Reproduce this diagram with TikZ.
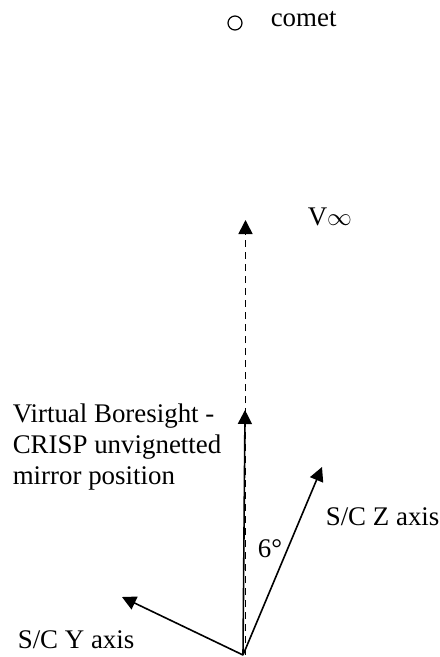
\documentclass[tikz,border=0pt]{standalone}
\usepackage{fontspec}
\setmainfont{Liberation Serif}
\usetikzlibrary{arrows.meta}

\begin{document}
\begin{tikzpicture}
	[x=1bp, y=-1bp, line width=1.6bp,
	 lbl/.style = {inner sep=0pt, font=\fontsize{27}{31}\selectfont},
	 axis/.style = {-{Triangle[length=14bp,width=14bp]}}]
	\useasboundingbox (0,0) rectangle (440,657);
	\node[draw, circle, minimum size=14bp, inner sep=0pt, line width=1.2bp] (comet) at (235,23) {};
	\node[lbl, anchor=base west] (cometlbl) at (270,27) {comet};
	\coordinate (o) at (243,655);
	\coordinate (od) at (245.5,655);
	\coordinate (vinf) at (245.5,220);
	\coordinate (bs) at (245,410);
	\coordinate (z) at (322,467);
	\coordinate (y) at (122,597);
	\node[lbl, anchor=base west] (vinflbl) at (307,225) {V$\infty$};
	\node[lbl, anchor=base west, align=left] (bslbl) at (12,484) {Virtual Boresight -\\CRISP unvignetted\\mirror position};
	\node[lbl, anchor=base west] (zlbl) at (325,525) {S/C Z axis};
	\node[lbl, anchor=base west] (ylbl) at (17,648) {S/C Y axis};
	\node[lbl, anchor=base west] (ang) at (257,557) {6\textdegree};
	\draw[axis, dash pattern=on 7bp off 5bp] (od) -- (vinf);
	\draw[axis] (o) -- (bs);
	\draw[axis] (o) -- (z);
	\draw[axis] (o) -- (y);
\end{tikzpicture}
\end{document}
